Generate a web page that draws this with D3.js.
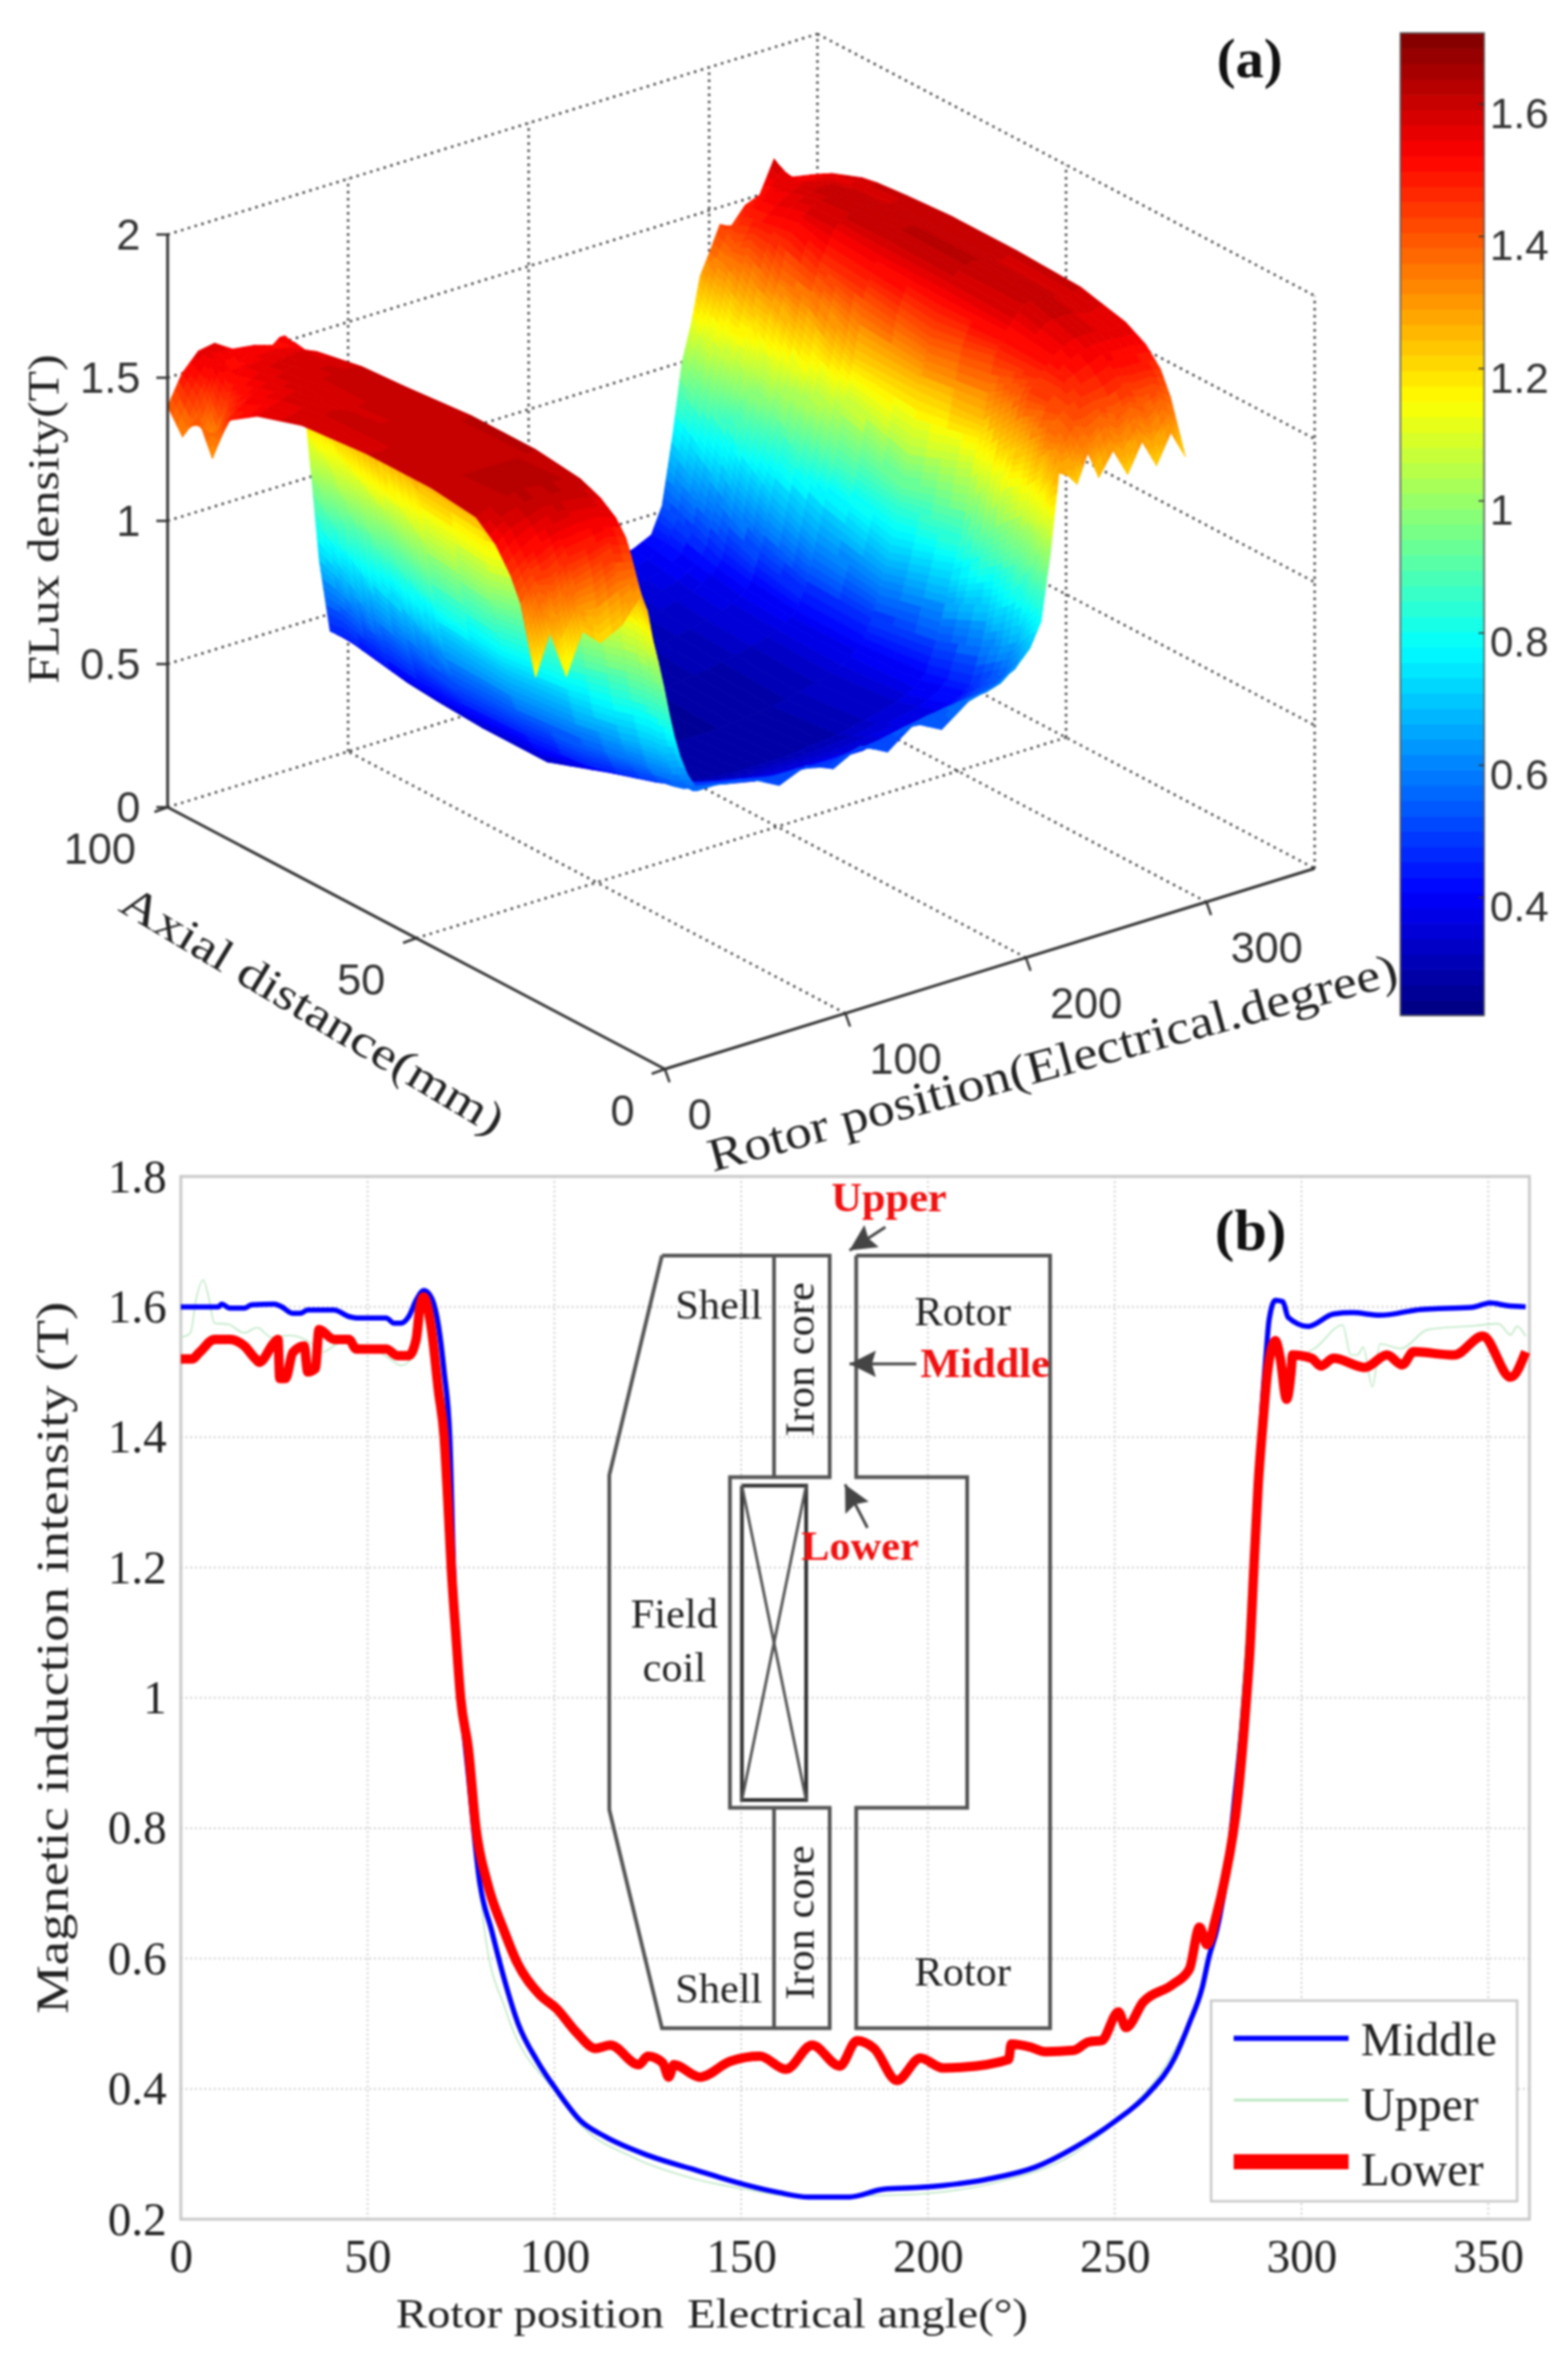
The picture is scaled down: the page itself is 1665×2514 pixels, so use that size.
<!DOCTYPE html>
<html>
<head>
<meta charset="utf-8">
<script src="https://cdn.jsdelivr.net/npm/d3@7"></script>
<style>
  html, body { margin: 0; padding: 0; background: #fff; }
  svg { display: block; filter: blur(1px); }
</style>
</head>
<body>
<div id="chart"></div>
<script>
// panel (a): surface, one row per axial position
const rotorCols = [0,8,17,26,36,48,58,62,65,68,71,74,77,80,84,90,100,120,135,150,165,180,195,210,225,240,258,268,274,280,285,290,295,300,306,312,320,328,336,344,352,360];
const axialRows = [100,97,94,91,88,82,73,60,47,38,34,31,29,28,27,26];
const fluxRows = [
  [1.40,1.50,1.56,1.57,1.53,1.52, 1.50,1.52,1.52,1.49,1.44,1.35,1.18,.98,.70,.44,.39, .35,.34,.33,.33,.32,.32,.33,.35,.37,.40,.43,.52,.76, 1.00,1.12,1.28,1.35,1.44,1.42,1.48,1.50,1.61,1.53,1.52,1.51],
  [1.32,1.44,1.55,1.50,1.54,1.53, 1.52,1.53,1.50,1.46,1.40,1.28,1.10,.92,.68,.45,.38, .34,.33,.32,.31,.31,.31,.32,.34,.36,.39,.43,.50,.72, .96,1.08,1.20,1.34,1.40,1.48,1.52,1.54,1.56,1.54,1.54,1.54],
  [1.42,1.30,1.50,1.54,1.55,1.56, 1.54,1.52,1.47,1.42,1.34,1.20,1.03,.86,.65,.44,.37, .33,.32,.31,.31,.30,.30,.31,.33,.35,.38,.42,.48,.68, .90,1.05,1.14,1.30,1.44,1.49,1.53,1.56,1.58,1.57,1.56,1.56],
  [1.30,1.44,1.52,1.55,1.57,1.58, 1.56,1.52,1.44,1.36,1.26,1.12,.97,.81,.62,.43,.36, .32,.31,.30,.29,.29,.29,.30,.32,.34,.37,.41,.46,.64, .85,.97,1.14,1.25,1.42,1.50,1.55,1.58,1.59,1.59,1.57,1.58],
  [1.46,1.50,1.54,1.56,1.58,1.57, 1.57,1.50,1.40,1.30,1.18,1.05,.91,.76,.59,.42,.35, .31,.30,.29,.28,.28,.29,.30,.31,.33,.36,.40,.44,.60, .78,.93,1.04,1.24,1.36,1.51,1.56,1.59,1.60,1.60,1.58,1.59],
  [1.53,1.55,1.57,1.58,1.59,1.60, 1.59,1.46,1.32,1.20,1.08,.96,.84,.71,.56,.41,.34, .30,.29,.28,.27,.27,.28,.29,.30,.32,.35,.38,.42,.54, .70,.84,1.00,1.12,1.34,1.46,1.56,1.60,1.61,1.60,1.59,1.60],
  [1.58,1.58,1.60,1.58,1.59,1.59, 1.60,1.38,1.22,1.06,.92,.80,.70,.61,.52,.41,.33, .29,.28,.27,.26,.26,.27,.28,.29,.31,.34,.37,.40,.49, .62,.76,.87,1.06,1.22,1.44,1.55,1.61,1.62,1.61,1.59,1.61],
  [1.60,1.59,1.61,1.61,1.60,1.60, 1.62,1.38,1.20,1.03,.89,.77,.68,.60,.52,.42,.33, .29,.27,.26,.26,.26,.26,.27,.28,.30,.33,.37,.40,.48, .58,.69,.84,.98,1.22,1.40,1.55,1.60,1.62,1.61,1.59,1.61],
  [1.60,1.60,1.61,1.61,1.61,1.61, 1.62,1.42,1.25,1.08,.93,.80,.70,.62,.54,.45,.41, .35,.31,.29,.28,.28,.28,.29,.30,.32,.35,.38,.42,.52, .64,.77,.88,1.08,1.24,1.45,1.54,1.60,1.61,1.60,1.58,1.60],
  [1.58,1.60,1.62,1.63,1.62,1.62, 1.60,1.45,1.30,1.12,.97,.84,.73,.65,.57,.50,.46, .41,.39,.37,.36,.36,.36,.36,.37,.38,.40,.43,.46,.58, .72,.90,1.14,1.26,1.42,1.46,1.52,1.55,1.56,1.56,1.55,1.56],
  [1.52,1.56,1.58,1.60,1.60,1.59, 1.57,1.45,1.30,1.14,.99,.86,.75,.67,.58,.52,.49, .46,.44,.42,.41,.41,.41,.42,.43,.45,.47,.50,.52,.62, .78,.98,1.18,1.34,1.42,1.46,1.49,1.51,1.53,1.53,1.53,1.52],
  [1.44,1.48,1.52,1.54,1.55,1.55, 1.53,1.43,1.29,1.14,1.00,.87,.76,.68,.59,.53,.51, .48,.46,.45,.45,.45,.45,.47,.49,.51,.52,.54,.56,.66, .84,1.06,1.24,1.38,1.42,1.44,1.45,1.46,1.48,1.47,1.47,1.46],
  [1.36,1.42,1.42,1.47,1.48,1.50, 1.48,1.38,1.26,1.13,1.00,.87,.76,.68,.60,.54,.53, .51,.49,.48,.48,.48,.49,.51,.53,.54,.55,.58,.60,.72, .90,1.14,1.30,1.36,1.40,1.40,1.42,1.41,1.43,1.41,1.42,1.38],
  [1.28,1.38,1.32,1.40,1.42,1.45, 1.43,1.32,1.22,1.11,.99,.87,.77,.69,.61,.55,.54, .52,.50,.50,.49,.50,.51,.53,.54,.56,.57,.61,.64,.74, .93,1.20,1.30,1.32,1.38,1.34,1.38,1.34,1.38,1.34,1.38,1.32],
  [1.20,1.32,1.22,1.32,1.32,1.36, 1.36,1.27,1.18,1.08,.97,.87,.77,.70,.62,.55,.55, .53,.50,.51,.49,.52,.50,.54,.53,.57,.59,.63,.67,.76, .97,1.26,1.28,1.28,1.35,1.28,1.34,1.27,1.34,1.27,1.34,1.26],
  [1.13,1.27,1.10,1.24,1.18,1.22, 1.30,1.24,1.13,1.05,.96,.86,.77,.70,.63,.56,.56, .54,.49,.53,.49,.54,.49,.56,.51,.58,.61,.66,.70,.78, 1.00,1.28,1.26,1.22,1.32,1.22,1.30,1.20,1.30,1.20,1.30,1.20]
];
const rotorTicks3d = [0,100,200,300];
const axialTicks3d = [0,50,100];
const fluxTicks3d = [0,0.5,1,1.5,2];
const colorbarTicks = [0.4,0.6,0.8,1,1.2,1.4,1.6];

// panel (b): [rotor position, flux density]
const middlePoints = [[0,1.60],[5,1.60],[10,1.60],[11,1.604],[13,1.598],[17,1.598],[19,1.603],[25,1.604],[27,1.60],[30,1.59],[32,1.59],[34,1.595],[41,1.595],[45,1.585],[47,1.583],[55,1.583],[57,1.575],[59,1.575],[61,1.585],[63,1.61],[65,1.625],[67,1.615],[69,1.57],[70.5,1.50],[72,1.40],[73,1.2],[75,1.0],[77,.88],[80,.717],[83.2,.643],[86.5,.57],[90.3,.50],[95.5,.442],[100.6,.398],[107,.351],[113.5,.327],[125,.298],[138,.275],[151,.253],[160,.241],[168,.234],[179,.234],[188,.246],[198.7,.249],[215.7,.261],[228.8,.28],[239.3,.31],[249.8,.349],[259,.393],[266,.447],[270,.501],[273.4,.555],[275.3,.604],[277.3,.643],[280,.73],[282,.84],[284,.95],[286,1.10],[288,1.30],[289.5,1.45],[290.5,1.526],[291.3,1.579],[293,1.61],[295,1.608],[296.4,1.584],[301.8,1.57],[308.6,1.589],[313.6,1.591],[321,1.587],[332,1.596],[345.5,1.599],[350.6,1.606],[354.8,1.602],[360,1.60]];
const upperPoints = [[0,1.553],[2.6,1.56],[4,1.609],[6,1.641],[7.4,1.616],[9,1.575],[12.7,1.573],[17,1.56],[20.4,1.568],[24.3,1.553],[29,1.556],[34.9,1.544],[37.8,1.53],[42.6,1.544],[50,1.54],[56,1.52],[59,1.51],[63.8,1.545],[66,1.60],[69,1.47],[72,1.2],[75,1.0],[78,.84],[81.3,.643],[87,.52],[100.6,.393],[107,.345],[121,.295],[136.8,.263],[151,.246],[170,.232],[185,.236],[198.7,.239],[218,.256],[239,.30],[252,.359],[265,.45],[273.4,.56],[278,.68],[284,1.0],[288,1.35],[291,1.52],[296,1.52],[303.5,1.536],[311,1.572],[313.2,1.526],[315,1.526],[316.5,1.538],[319,1.477],[321,1.543],[326.6,1.536],[333.8,1.565],[346.4,1.571],[352.7,1.574],[356,1.557],[357.7,1.57],[360,1.555]];
const lowerPoints = [[0,1.52],[3,1.52],[5,1.53],[9,1.55],[13,1.55],[17,1.54],[20,1.52],[21,1.515],[25,1.545],[26,1.55],[26.5,1.49],[28,1.49],[30,1.53],[33,1.54],[34,1.50],[36,1.505],[37,1.565],[41,1.55],[45,1.55],[47,1.535],[55,1.535],[58,1.525],[61,1.525],[63,1.55],[64,1.60],[65,1.615],[67,1.57],[69,1.47],[70.5,1.40],[71.5,1.30],[72.4,1.20],[73.6,1.10],[74.9,1.0],[77,.92],[79,.8],[82,.717],[86.5,.643],[90,.594],[96,.545],[100.6,.523],[106,.486],[111,.462],[115,.467],[122.6,.437],[125,.45],[129,.44],[130.6,.418],[132,.437],[139,.418],[147,.442],[155,.45],[162,.43],[169,.467],[176.4,.435],[181,.474],[185.6,.462],[191.7,.413],[198,.447],[204,.432],[209,.433],[221.6,.445],[222.3,.469],[227.5,.464],[231.4,.457],[239,.459],[243,.472],[246.5,.474],[251,.518],[253,.494],[257.6,.533],[265.5,.56],[270,.584],[272.7,.648],[274.7,.621],[277.3,.668],[279.3,.717],[283,.85],[285,.98],[286.3,1.085],[287.1,1.182],[288.4,1.327],[289.7,1.424],[290.9,1.50],[293,1.548],[294.3,1.521],[296,1.458],[297.2,1.50],[297.6,1.526],[302.7,1.521],[305.2,1.509],[308.6,1.521],[317,1.507],[322.9,1.526],[327,1.511],[330,1.531],[340.9,1.526],[348.5,1.555],[356,1.492],[360,1.531]];
const xTicks = [0,50,100,150,200,250,300,350];
const yTicks = [0.2,0.4,0.6,0.8,1,1.2,1.4,1.6,1.8];

// machine cross-section drawn over panel (b), in the units of its axes
const shellOutline = [[128.8,1.6786],[173.7,1.6786],[173.7,1.3384],[147,1.3384],[147,.8312],[173.7,.8312],[173.7,.4931],[128.8,.4931],[114.7,.8283],[114.7,1.3414],[128.8,1.6786]];
const rotorOutline = [[180.8,1.6786],[232.7,1.6786],[232.7,.4931],[180.8,.4931],[180.8,.8312],[210.5,.8312],[210.5,1.3384],[180.8,1.3384],[180.8,1.6786]];
const coreLines = [[[158.8,1.6786],[158.8,1.3384]],[[158.8,.8312],[158.8,.4931]]];
const coilBox = [[150.2,1.3255],[167.4,1.3255],[167.4,.8432],[150.2,.8432],[150.2,1.3255]];
const coilCross = [[[150.2,1.3255],[167.4,.8432]],[[167.4,1.3255],[150.2,.8432]]];
const arrowLines = [[[188.6,1.7223],[179,1.6865]],[[196.9,1.5125],[179,1.5125]],[[183.8,1.2609],[177.8,1.3275]]];
const blackLabels = [["Shell",144,1.5821],["Shell",144,.5324],["Rotor",209.3,1.5712],["Rotor",209.3,.5585],["Field",132.1,1.1077],["coil",132.1,1.0252]];
const coreLabels = [["Iron core",169.4,1.5195],["Iron core",169.4,.6552]];
const redLabels = [["Upper",189.6,1.7462],["Middle",215.3,1.4916],["Lower",181.8,1.2121]];

const serif = "'Liberation Serif', 'Times New Roman', serif";
const sans = "'Liberation Sans', Arial, sans-serif";

const svg = d3.select("#chart").append("svg")
  .attr("width", 1665)
  .attr("height", 2514)
  .attr("viewBox", [0, 0, 1665, 2514]);

svg.append("rect").attr("width", 1665).attr("height", 2514).attr("fill", "#fff");

svg.append("defs").append("marker")
  .attr("id", "head")
  .attr("viewBox", "0 0 10 10")
  .attr("refX", 10).attr("refY", 5)
  .attr("markerUnits", "userSpaceOnUse")
  .attr("markerWidth", 36).attr("markerHeight", 28)
  .attr("orient", "auto")
  .append("path").attr("d", "M0,0L10,5L0,10L1.5,5Z").attr("fill", "#444");

// ---------- panel (a) ----------

// the MATLAB view is orthographic, so each data axis is one screen shift
const rotorShiftX = d3.scaleLinear([0, 360], [0, 690]);
const rotorShiftY = d3.scaleLinear([0, 360], [0, -213]);
const axialShiftX = d3.scaleLinear([0, 100], [0, -528]);
const axialShiftY = d3.scaleLinear([0, 100], [0, -278]);
const fluxShiftY = d3.scaleLinear([0, 2], [0, -608]);
const originX = 706, originY = 1135;

function project(r, a, z) {
  return [originX + rotorShiftX(r) + axialShiftX(a), originY + rotorShiftY(r) + axialShiftY(a) + fluxShiftY(z)];
}

// jet colormap, 64 levels
const jet = d3.scaleLinear()
  .domain([0, 0.125, 0.375, 0.625, 0.875, 1])
  .range(["#00007f", "#0000ff", "#00ffff", "#ffff00", "#ff0000", "#7f0000"]);
const jetLevels = d3.range(64).map(i => jet((i + 0.5) / 64));
const fluxColor = d3.scaleQuantize([0.221, 1.707], jetLevels);

const panelA = svg.append("g");

// box grid behind the surface
function segment(p, q) { return "M" + project(...p) + "L" + project(...q); }
var gridSegs = [];
rotorTicks3d.concat([360]).forEach(r => {
  if (r > 0 && r < 360) gridSegs.push(segment([r, 0, 0], [r, 100, 0]));
  if (r > 0) gridSegs.push(segment([r, 100, 0], [r, 100, 2]));
});
axialTicks3d.forEach(a => {
  if (a > 0 && a < 100) gridSegs.push(segment([0, a, 0], [360, a, 0]));
  gridSegs.push(segment([360, a, 0], [360, a, 2]));
});
fluxTicks3d.forEach(z => {
  gridSegs.push(segment([0, 100, z], [360, 100, z]));
  gridSegs.push(segment([360, 100, z], [360, 0, z]));
});
panelA.append("path")
  .attr("d", gridSegs.join(""))
  .attr("fill", "none")
  .attr("stroke", "#333")
  .attr("stroke-width", 2.5)
  .attr("stroke-dasharray", "2.5 5");

// painter's order: far rows first, each quad split finely enough for the colour bands
var quads = [];
for (let i = 0; i < axialRows.length - 1; i++) {
  for (let j = rotorCols.length - 1; j > 0; j--) {
    const z00 = fluxRows[i][j], z01 = fluxRows[i][j - 1], z10 = fluxRows[i + 1][j], z11 = fluxRows[i + 1][j - 1];
    const nr = Math.min(8, Math.max(2, Math.ceil(Math.max(Math.abs(z00 - z01), Math.abs(z10 - z11)) / 0.03)));
    const na = Math.min(6, Math.max(1, Math.ceil(Math.max(Math.abs(z00 - z10), Math.abs(z01 - z11)) / 0.03)));
    const rScale = d3.scaleLinear([0, nr], [rotorCols[j], rotorCols[j - 1]]);
    const aScale = d3.scaleLinear([0, na], [axialRows[i], axialRows[i + 1]]);
    const at = (u, v) => {
      const s = u / nr, t = v / na;
      return (z00 * (1 - s) + z01 * s) * (1 - t) + (z10 * (1 - s) + z11 * s) * t;
    };
    for (let v = 0; v < na; v++) {
      for (let u = 0; u < nr; u++) {
        const corners = [[u, v], [u + 1, v], [u + 1, v + 1], [u, v + 1]];
        quads.push({
          pts: corners.map(c => project(rScale(c[0]), aScale(c[1]), at(c[0], c[1]))),
          z: d3.mean(corners, c => at(c[0], c[1]))
        });
      }
    }
  }
}
panelA.append("g").selectAll("path")
  .data(quads)
  .join("path")
  .attr("d", d => "M" + d.pts.join("L") + "Z")
  .attr("fill", d => fluxColor(d.z))
  .attr("stroke", d => fluxColor(d.z))
  .attr("stroke-width", 0.8);

// solid axes
panelA.append("path")
  .attr("d", segment([0, 100, 0], [0, 100, 2]) + segment([0, 100, 0], [0, 0, 0]) + segment([0, 0, 0], [360, 0, 0]))
  .attr("fill", "none")
  .attr("stroke", "#333")
  .attr("stroke-width", 3);

function tickMark(p, dx, dy) {
  const a = project(...p);
  return "M" + a + "l" + dx + "," + dy;
}
var tickPath = "";
rotorTicks3d.forEach(r => { tickPath += tickMark([r, 0, 0], 5, 14); });
axialTicks3d.forEach(a => { tickPath += tickMark([0, a, 0], -14, 5); });
fluxTicks3d.forEach(z => { tickPath += tickMark([0, 100, z], -12, 0); });
panelA.append("path").attr("d", tickPath).attr("stroke", "#333").attr("stroke-width", 2.5).attr("fill", "none");

const tick3d = { font: sans, size: 46, fill: "#333" };
function label3d(text, p, dx, dy, anchor) {
  const a = project(...p);
  panelA.append("text")
    .attr("x", a[0] + dx).attr("y", a[1] + dy)
    .attr("text-anchor", anchor)
    .attr("font-family", tick3d.font).attr("font-size", tick3d.size).attr("fill", tick3d.fill)
    .text(text);
}
const axialLabelShift = d3.scaleLinear([0, 100], [-45, -72]);
fluxTicks3d.forEach(z => label3d(z, [0, 100, z], -29, 16, "end"));
axialTicks3d.forEach(a => label3d(a, [0, a, 0], axialLabelShift(a), 60, "middle"));
rotorTicks3d.forEach(r => label3d(r, [r, 0, 0], r === 0 ? 37 : 64, 64, "middle"));

function titleText(parent, text, x, y, angle, size, len) {
  parent.append("text")
    .attr("transform", `translate(${x},${y}) rotate(${angle})`)
    .attr("text-anchor", "middle")
    .attr("font-family", serif).attr("font-size", size).attr("fill", "#222")
    .attr("textLength", len).attr("lengthAdjust", "spacingAndGlyphs")
    .text(text);
}
titleText(panelA, "FLux density(T)", 62, 551, -90, 46, 350);
titleText(panelA, "Axial distance(mm)", 324, 1086, 31, 48, 466);
titleText(panelA, "Rotor position(Electrical.degree)", 1122, 1144, -15.3, 50, 757);

panelA.append("text")
  .attr("x", 1327).attr("y", 82)
  .attr("text-anchor", "middle")
  .attr("font-family", serif).attr("font-weight", "bold").attr("font-size", 60).attr("fill", "#111")
  .text("(a)");

// colorbar
const barY = d3.scaleLinear([0.221, 1.707], [1078, 35]);
const barG = svg.append("g");
barG.selectAll("rect")
  .data(jetLevels)
  .join("rect")
  .attr("x", 1487)
  .attr("width", 89)
  .attr("y", (d, i) => barY(0.221 + (i + 1) * (1.707 - 0.221) / 64))
  .attr("height", (1078 - 35) / 64 + 0.6)
  .attr("fill", d => d);
barG.append("rect")
  .attr("x", 1487).attr("y", 35).attr("width", 89).attr("height", 1043)
  .attr("fill", "none").attr("stroke", "#555").attr("stroke-width", 1.5);
barG.append("g")
  .attr("transform", "translate(1576,0)")
  .call(d3.axisRight(barY).tickValues(colorbarTicks).tickFormat(d => d).tickSize(-6).tickPadding(6))
  .call(g => g.select(".domain").remove())
  .call(g => g.selectAll(".tick line").attr("stroke", "#333").attr("stroke-width", 1.5))
  .call(g => g.selectAll("text")
    .attr("font-family", sans).attr("font-size", 45).attr("fill", "#333").attr("dy", "0.56em"));

// ---------- panel (b) ----------

const x = d3.scaleLinear([0, 361], [192, 1624]);
const y = d3.scaleLinear([0.2, 1.8], [2356, 1249]);
const panelB = svg.append("g");

// grid
panelB.append("g").selectAll("line")
  .data(xTicks.slice(1))
  .join("line")
  .attr("x1", d => x(d)).attr("x2", d => x(d))
  .attr("y1", y(1.8)).attr("y2", y(0.2))
  .attr("stroke", "#cfcfcf").attr("stroke-width", 2).attr("stroke-dasharray", "2 3");
panelB.append("g").selectAll("line")
  .data(yTicks.slice(1, -1))
  .join("line")
  .attr("x1", x(0)).attr("x2", x(361))
  .attr("y1", d => y(d)).attr("y2", d => y(d))
  .attr("stroke", "#cfcfcf").attr("stroke-width", 2).attr("stroke-dasharray", "2 3");

panelB.append("rect")
  .attr("x", x(0)).attr("y", y(1.8))
  .attr("width", x(361) - x(0)).attr("height", y(0.2) - y(1.8))
  .attr("fill", "none").attr("stroke", "#c8c8c8").attr("stroke-width", 3);

const bAxisLeft = d3.axisLeft(y).tickValues(yTicks).tickFormat(d => d).tickSize(0).tickPadding(15);
const bAxisBottom = d3.axisBottom(x).tickValues(xTicks).tickSize(0).tickPadding(20);
panelB.append("g").attr("transform", `translate(${x(0)},0)`).call(bAxisLeft)
  .call(g => g.select(".domain").remove())
  .call(g => g.selectAll("text").attr("font-family", serif).attr("font-size", 50).attr("fill", "#222"));
panelB.append("g").attr("transform", `translate(0,${y(0.2)})`).call(bAxisBottom)
  .call(g => g.select(".domain").remove())
  .call(g => g.selectAll("text").attr("font-family", serif).attr("font-size", 50).attr("fill", "#222"));

titleText(panelB, "Magnetic induction intensity (T)", 72, 1760, -90, 48, 756);
titleText(panelB, "Rotor position\u00a0 Electrical angle(°)", 756, 2471, 0, 44, 671);

// curves
const line = d3.line().x(d => x(d[0])).y(d => y(d[1])).curve(d3.curveMonotoneX);
const straight = d3.line().x(d => x(d[0])).y(d => y(d[1]));
const curves = [
  { values: upperPoints, color: "#bfe8c6", width: 1.6 },
  { values: middlePoints, color: "#0000ff", width: 5.5 },
  { values: lowerPoints, color: "#ff0000", width: 10 }
];
panelB.append("g").selectAll("path")
  .data(curves)
  .join("path")
  .attr("d", d => line(d.values))
  .attr("fill", "none")
  .attr("stroke", d => d.color)
  .attr("stroke-width", d => d.width)
  .attr("stroke-linejoin", "round");

// machine cross-section
const schematic = panelB.append("g");
[shellOutline, rotorOutline].concat(coreLines).forEach(pts => {
  schematic.append("path").attr("d", straight(pts)).attr("fill", "none").attr("stroke", "#555").attr("stroke-width", 4);
});
schematic.append("path").attr("d", straight(coilBox)).attr("fill", "none").attr("stroke", "#333").attr("stroke-width", 4);
coilCross.forEach(pts => {
  schematic.append("path").attr("d", straight(pts)).attr("fill", "none").attr("stroke", "#555").attr("stroke-width", 3);
});
arrowLines.forEach(pts => {
  schematic.append("path").attr("d", straight(pts)).attr("fill", "none").attr("stroke", "#444").attr("stroke-width", 3).attr("marker-end", "url(#head)");
});
schematic.selectAll(".black")
  .data(blackLabels)
  .join("text")
  .attr("x", d => x(d[1])).attr("y", d => y(d[2]))
  .attr("text-anchor", "middle")
  .attr("font-family", serif).attr("font-size", 45).attr("fill", "#222")
  .text(d => d[0]);
schematic.selectAll(".core")
  .data(coreLabels)
  .join("text")
  .attr("transform", d => `translate(${x(d[1])},${y(d[2])}) rotate(-90)`)
  .attr("text-anchor", "middle")
  .attr("font-family", serif).attr("font-size", 45).attr("fill", "#222")
  .text(d => d[0]);
schematic.selectAll(".red")
  .data(redLabels)
  .join("text")
  .attr("x", d => x(d[1])).attr("y", d => y(d[2]))
  .attr("text-anchor", "middle")
  .attr("font-family", serif).attr("font-weight", "bold").attr("font-size", 45).attr("fill", "#f01010")
  .text(d => d[0]);

panelB.append("text")
  .attr("x", 1328).attr("y", 1327)
  .attr("text-anchor", "middle")
  .attr("font-family", serif).attr("font-weight", "bold").attr("font-size", 62).attr("fill", "#111")
  .text("(b)");

// legend
const legend = panelB.append("g");
legend.append("rect")
  .attr("x", 1286).attr("y", 2124).attr("width", 325).attr("height", 213)
  .attr("fill", "#fff").attr("stroke", "#c8c8c8").attr("stroke-width", 2.5);
const legendNames = ["Middle", "Upper", "Lower"];
const legendSeries = [curves[1], curves[0], curves[2]];
const legendY = d3.scalePoint(legendNames, [2164, 2295]);
const legendTextY = d3.scalePoint(legendNames, [2182, 2320]);
legend.selectAll("line")
  .data(legendNames)
  .join("line")
  .attr("x1", 1310).attr("x2", 1432)
  .attr("y1", d => legendY(d)).attr("y2", d => legendY(d))
  .attr("stroke", (d, i) => legendSeries[i].color)
  .attr("stroke-width", (d, i) => legendSeries[i].width + (i === 1 ? 1.4 : i === 2 ? 6 : 0));
legend.selectAll("text")
  .data(legendNames)
  .join("text")
  .attr("x", 1445).attr("y", d => legendTextY(d))
  .attr("font-family", serif).attr("font-size", 50).attr("fill", "#222")
  .text(d => d);
</script>
</body>
</html>
